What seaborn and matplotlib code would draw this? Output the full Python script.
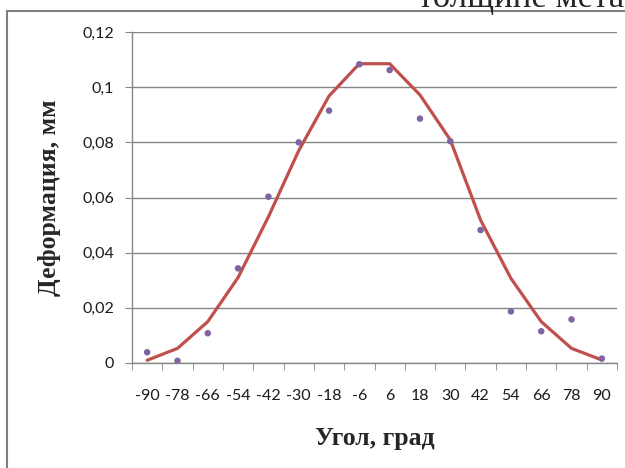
import matplotlib
matplotlib.use("Agg")
import matplotlib.pyplot as plt
import seaborn as sns
import pandas as pd
from matplotlib.patches import Rectangle
from matplotlib.ticker import FuncFormatter, FixedLocator

# Данные
ugol = [-90, -78, -66, -54, -42, -30, -18, -6, 6, 18, 30, 42, 54, 66, 78, 90]
deform_izm = [0.0039, 0.0008, 0.0108, 0.0343, 0.0603, 0.0800, 0.0915, 0.1083,
              0.1062, 0.0886, 0.0804, 0.0482, 0.0187, 0.0115, 0.0158, 0.0016]
deform_teor = [0.0010, 0.0053, 0.0150, 0.0310, 0.0530, 0.0770, 0.0968, 0.1085,
               0.1085, 0.0972, 0.0809, 0.0518, 0.0307, 0.0150, 0.0053, 0.0011]

df = pd.DataFrame({"pos": range(len(ugol)), "izm": deform_izm, "teor": deform_teor})

sns.set_style("white")
fig = plt.figure(figsize=(6.25, 4.68), dpi=100)
ax = fig.add_axes([132 / 625, 1 - 363 / 468, 485 / 625, 331 / 468])

sns.lineplot(data=df, x="pos", y="teor", color="#C0504D", linewidth=2.3, ax=ax, zorder=3)
sns.scatterplot(data=df, x="pos", y="izm", color="#8064A2", s=22, edgecolor="none", ax=ax, zorder=4)

ax.set_xlim(-0.5, len(ugol) - 0.5)
ax.set_ylim(0, 0.12)
ax.set_yticks([0, 0.02, 0.04, 0.06, 0.08, 0.1, 0.12])
ax.yaxis.set_major_formatter(FuncFormatter(lambda v, p: f"{v:g}".replace(".", ",")))
ax.set_xticks(range(len(ugol)))
ax.set_xticklabels([str(u) for u in ugol])
ax.xaxis.set_minor_locator(FixedLocator([i - 0.5 for i in range(len(ugol) + 1)]))
ax.tick_params(axis="x", which="major", length=0, pad=19)
ax.tick_params(axis="x", which="minor", length=5, color="#868686", direction="out", bottom=True)
ax.tick_params(axis="y", length=5, color="#868686", direction="out", left=True, pad=8)
for lab in ax.get_xticklabels() + ax.get_yticklabels():
    lab.set_fontfamily("Lato")
    lab.set_fontsize(11.5)
    lab.set_color("#1a1a1a")

ax.grid(axis="y", color="#868686", linewidth=1)
ax.set_axisbelow(True)
for s in ["top", "right"]:
    ax.spines[s].set_visible(False)
for s in ["left", "bottom"]:
    ax.spines[s].set_color("#868686")
    ax.spines[s].set_linewidth(1)

ax.set_xlabel("Угол, град", fontfamily="Liberation Serif", fontweight="bold", fontsize=18.5, labelpad=17)
ax.set_ylabel("Деформация, мм", fontfamily="Liberation Serif", fontweight="bold", fontsize=18.5, labelpad=15)

# рамка и обрезанный текст сверху
fig.patches.append(Rectangle((7 / 625, -0.1), 1.2, 1 - 11 / 468 + 0.1, transform=fig.transFigure,
                             fill=False, edgecolor="#808080", linewidth=1.5))
fig.text(418 / 625, 1 - 7 / 468, "толщине металла", fontfamily="Liberation Serif",
         fontsize=25, va="baseline", ha="left")

fig.savefig("out.png", dpi=100)
